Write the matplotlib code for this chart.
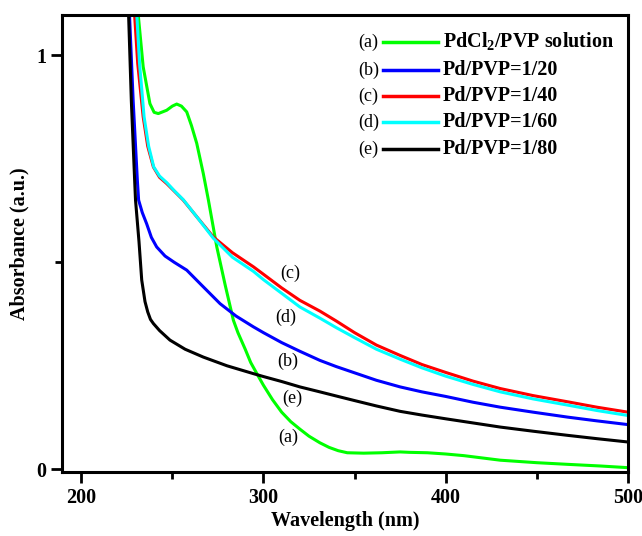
import matplotlib
matplotlib.use("Agg")
import matplotlib.pyplot as plt
from matplotlib.lines import Line2D
from matplotlib.ticker import MultipleLocator

plt.rcParams['font.family'] = ['Liberation Serif', 'DejaVu Serif']
plt.rcParams['mathtext.fontset'] = 'custom'
plt.rcParams['mathtext.rm'] = 'Liberation Serif:bold'
plt.rcParams['mathtext.bf'] = 'Liberation Serif:bold'

# (a) PdCl2/PVP solution
wl_a = [229, 231.3, 234, 237.7, 240, 242.3, 246.9, 250, 252.4, 255, 257.9, 260.5,
        263.4, 267, 269.8, 274.4, 279, 283.5, 286, 290, 293, 296.4, 300, 305, 310, 315,
        320, 325, 331, 336, 341, 346, 355, 365, 370, 375, 380, 390, 400, 410, 430, 450,
        467, 485, 500]
abs_a = [1.25, 1.097, 0.972, 0.883, 0.862, 0.859, 0.867, 0.877, 0.882, 0.877, 0.863, 0.83,
         0.787, 0.714, 0.650, 0.537, 0.445, 0.360, 0.33, 0.29, 0.258, 0.231, 0.203, 0.168, 0.138, 0.115,
         0.097, 0.080, 0.064, 0.053, 0.045, 0.040, 0.039, 0.040, 0.041, 0.042, 0.041, 0.040, 0.037, 0.033, 0.022, 0.016,
         0.012, 0.008, 0.004]

# (b) Pd/PVP=1/20
wl_b = [225, 226.5, 228.5, 230.8, 231.5, 233.5, 235.9, 238.5, 241.4, 246, 251, 257.9, 266,
        276.2, 285, 294.5, 300, 310, 320, 331, 340, 350, 362, 375, 387, 400, 415, 430, 448,
        467, 483, 500]
abs_b = [1.25, 1.097, 0.89, 0.698, 0.65, 0.62, 0.593, 0.56, 0.537, 0.515, 0.50, 0.481, 0.445,
         0.400, 0.37, 0.344, 0.330, 0.306, 0.285, 0.263, 0.248, 0.233, 0.215, 0.199, 0.187, 0.176, 0.162, 0.150, 0.138,
         0.126, 0.117, 0.108]

# (c) Pd/PVP=1/40
wl_c = [227, 229.3, 231, 234, 236.5, 239.6, 243, 246.9, 251, 256, 263, 272.5, 283, 294.5,
        300, 310, 320, 331, 340, 350, 362, 375, 387, 400, 415, 430, 448, 467, 483, 500]
abs_c = [1.25, 1.097, 0.98, 0.851, 0.78, 0.730, 0.705, 0.690, 0.672, 0.650, 0.612, 0.561, 0.523, 0.489,
         0.471, 0.438, 0.408, 0.382, 0.358, 0.330, 0.300, 0.275, 0.253, 0.234, 0.213, 0.195, 0.178, 0.163, 0.150, 0.138]

# (d) Pd/PVP=1/60
wl_d = [228.5, 230.5, 232, 234.5, 237, 239.8, 243, 247, 251, 256, 263, 272.5, 283, 294.5,
        300, 310, 320, 331, 340, 350, 362, 375, 387, 400, 415, 430, 448, 467, 483, 500]
abs_d = [1.25, 1.097, 0.98, 0.851, 0.78, 0.730, 0.708, 0.692, 0.673, 0.651, 0.612, 0.558, 0.512, 0.478,
         0.458, 0.425, 0.392, 0.365, 0.342, 0.318, 0.290, 0.266, 0.245, 0.225, 0.205, 0.187, 0.170, 0.155, 0.142, 0.130]

# (e) Pd/PVP=1/80
wl_e = [224.5, 226, 227.5, 229.3, 229.8, 231.7, 233.2, 235, 236.5, 238, 239.6, 243, 248.7, 257, 267,
        280, 294.5, 300, 310, 320, 331, 340, 350, 362, 375, 387, 400, 415, 430, 448, 467, 483, 500]
abs_e = [1.25, 1.097, 0.89, 0.70, 0.65, 0.55, 0.457, 0.405, 0.38, 0.362, 0.352, 0.335, 0.312, 0.29, 0.271,
         0.25, 0.231, 0.224, 0.212, 0.199, 0.187, 0.177, 0.166, 0.153, 0.140, 0.131, 0.122, 0.112, 0.102, 0.092,
         0.082, 0.074, 0.066]

tags = ['(a)', '(b)', '(c)', '(d)', '(e)']
labels = [r'PdCl$_{\mathbf{2}}$/PVP solution', 'Pd/PVP=1/20', 'Pd/PVP=1/40',
          'Pd/PVP=1/60', 'Pd/PVP=1/80']
colors = ['#00ff00', '#0000ff', '#ff0000', '#00ffff', '#000000']
series = [(wl_a, abs_a), (wl_b, abs_b), (wl_c, abs_c), (wl_d, abs_d), (wl_e, abs_e)]

# curve tags placed next to the curves
tag_x = [313.7, 313.4, 314.7, 312.0, 315.6]
tag_y = [0.077, 0.261, 0.474, 0.368, 0.171]

fig = plt.figure(figsize=(6.42, 5.36), dpi=100)
ax = fig.add_axes([0.097, 0.119, 0.881, 0.853])

for (x, y), c in zip(series, colors):
    ax.plot(x, y, color=c, lw=2.2)

for t, x, y in zip(tags, tag_x, tag_y):
    ax.text(x, y, t, fontsize=13, ha='center', va='center')

# legend: tag, line, bold label
row_y = [0.941, 0.880, 0.823, 0.766, 0.707]
for t, lab, c, y in zip(tags, labels, colors, row_y):
    ax.text(0.523, y, t, transform=ax.transAxes, fontsize=13, va='center')
    ax.add_line(Line2D([0.567, 0.664], [y, y], transform=ax.transAxes, color=c, lw=2.5))
    ax.text(0.673, y, lab, transform=ax.transAxes, fontsize=14.5, fontweight='bold', va='center')

ax.set_xlim(189.6, 500)
ax.set_ylim(-0.007, 1.097)
ax.xaxis.set_major_locator(MultipleLocator(100))
ax.xaxis.set_minor_locator(MultipleLocator(50))
ax.set_yticks([0, 1])
ax.yaxis.set_minor_locator(MultipleLocator(0.5))

ax.tick_params(which='major', direction='out', length=8, width=2, labelsize=14.5)
ax.tick_params(which='minor', direction='out', length=5, width=2)
for lbl in ax.get_xticklabels() + ax.get_yticklabels():
    lbl.set_fontweight('bold')
for s in ax.spines.values():
    s.set_linewidth(2.2)

ax.set_xlabel('Wavelength (nm)', fontsize=14.5, fontweight='bold')
ax.set_ylabel('Absorbance (a.u.)', fontsize=14.5, fontweight='bold')
ax.xaxis.set_label_coords(0.5, -0.085)
ax.yaxis.set_label_coords(-0.058, 0.5)

fig.savefig('out.png', dpi=100)
